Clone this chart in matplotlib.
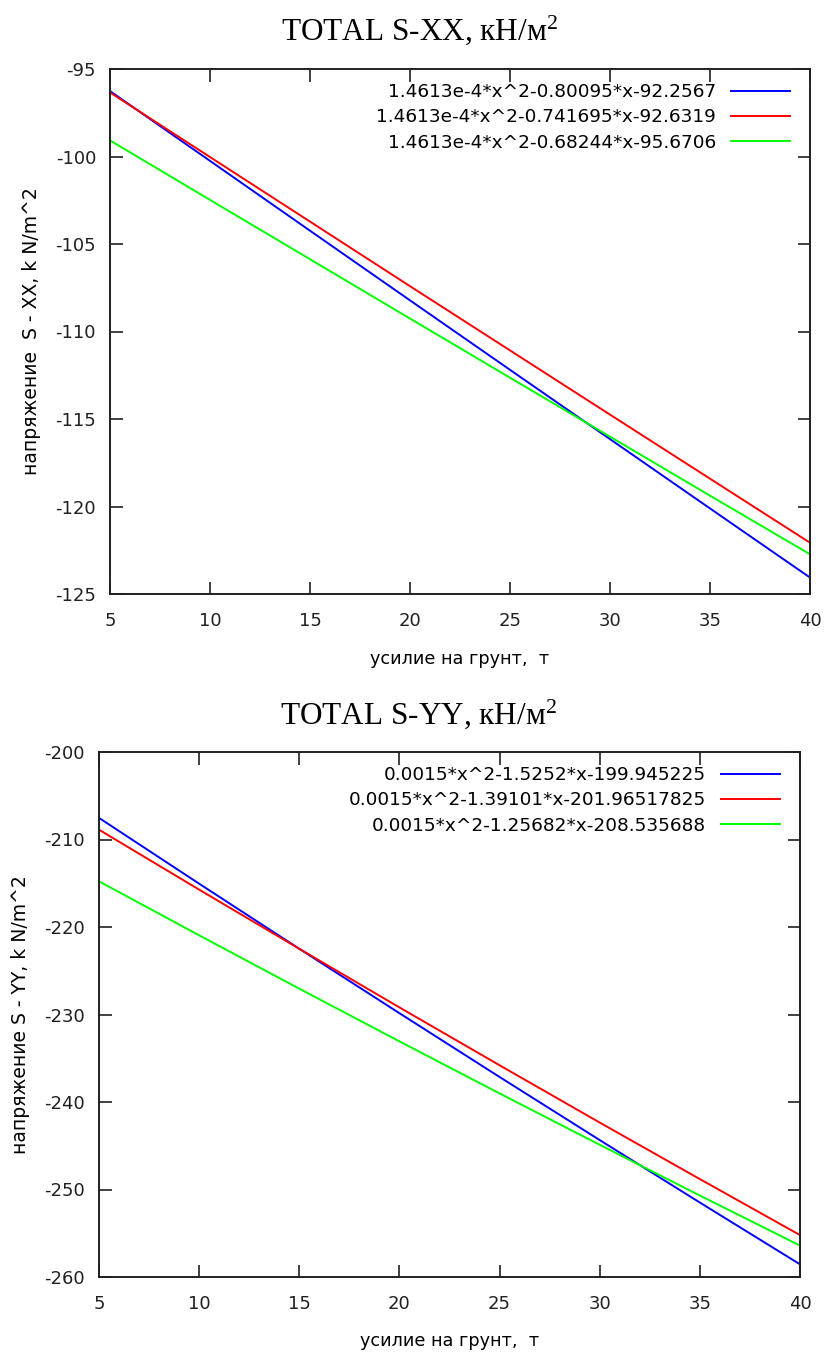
import matplotlib
matplotlib.use("Agg")
import matplotlib.pyplot as plt

# values at x = 5, 10, ... 40
x_vals = [5, 10, 15, 20, 25, 30, 35, 40]

xx_blue = [-96.26, -100.25, -104.24, -108.22, -112.19, -116.15, -120.11, -124.06]
xx_red = [-96.34, -100.03, -103.72, -107.41, -111.08, -114.75, -118.41, -122.07]
xx_green = [-99.08, -102.48, -105.87, -109.26, -112.64, -116.01, -119.38, -122.73]
xx_labels = ["1.4613e-4*x^2-0.80095*x-92.2567",
             "1.4613e-4*x^2-0.741695*x-92.6319",
             "1.4613e-4*x^2-0.68244*x-95.6706"]

yy_blue = [-207.53, -215.05, -222.49, -229.85, -237.14, -244.35, -251.49, -258.55]
yy_red = [-208.88, -215.73, -222.49, -229.19, -235.80, -242.35, -248.81, -255.21]
yy_green = [-214.78, -220.95, -227.05, -233.07, -239.02, -244.89, -250.69, -256.41]
yy_labels = ["0.0015*x^2-1.5252*x-199.945225",
             "0.0015*x^2-1.39101*x-201.96517825",
             "0.0015*x^2-1.25682*x-208.535688"]

x_ticks = [5, 10, 15, 20, 25, 30, 35, 40]
xx_ticks = [-95, -100, -105, -110, -115, -120, -125]
yy_ticks = [-200, -210, -220, -230, -240, -250, -260]

plt.rcParams['font.family'] = ['DejaVu Sans']
plt.rcParams['axes.unicode_minus'] = False
# superscript in the titles drawn in the same serif face
plt.rcParams['mathtext.fontset'] = 'custom'
plt.rcParams['mathtext.rm'] = 'Liberation Serif'
plt.rcParams['mathtext.it'] = 'Liberation Serif'
plt.rcParams['mathtext.default'] = 'rm'

W, H = 826, 1355
fig = plt.figure(figsize=(W / 100, H / 100), dpi=100)


def px_rect(left, top, right, bottom):
    return [left / W, 1 - bottom / H, (right - left) / W, (bottom - top) / H]


def draw_panel(rect, series, labels, yticks, ylabel, leg_x, leg_y):
    ax = fig.add_axes(rect)
    colors = ['#0000ff', '#ff0000', '#00ff00']
    for ys, lab, c in zip(series, labels, colors):
        ax.plot(x_vals, ys, color=c, linewidth=1.4, label=lab)
    ax.set_xlim(5, 40)
    ax.set_ylim(min(yticks), max(yticks))
    ax.set_xticks(x_ticks)
    ax.set_yticks(yticks)
    ax.tick_params(direction='in', length=9, width=1.2, top=True, right=True,
                   labelsize=13, pad=10, colors='#202020')
    ax.tick_params(axis='x', pad=13)
    for sp in ax.spines.values():
        sp.set_linewidth(1.4)
        sp.set_color('#202020')
    ax.set_xlabel('усилие на грунт,  т', fontsize=12.7, labelpad=14)
    ax.set_ylabel(ylabel, fontsize=13.5, labelpad=10)
    ax.legend(loc='upper right', bbox_to_anchor=(leg_x / W, 1 - leg_y / H),
              bbox_transform=fig.transFigure, frameon=False, markerfirst=False,
              fontsize=13.3, handlelength=3.2, handletextpad=0.8,
              labelspacing=0.4, borderaxespad=0, borderpad=0)
    return ax


ax1 = draw_panel(px_rect(110, 69, 810, 594), [xx_blue, xx_red, xx_green],
                 xx_labels, xx_ticks, 'напряжение  S - XX, k N/m^2', 790, 83)
ax2 = draw_panel(px_rect(99, 752, 800, 1277), [yy_blue, yy_red, yy_green],
                 yy_labels, yy_ticks, 'напряжение S - YY, k N/m^2', 780, 766)

fig.text(419 / W, 1 - 30 / H, 'TOTAL S-XX, кН/м$^2$', ha='center', va='center',
         family='Liberation Serif', fontsize=22.5)
fig.text(418 / W, 1 - 714 / H, 'TOTAL S-YY, кН/м$^2$', ha='center', va='center',
         family='Liberation Serif', fontsize=22.5)

fig.savefig('out.png', dpi=100)
